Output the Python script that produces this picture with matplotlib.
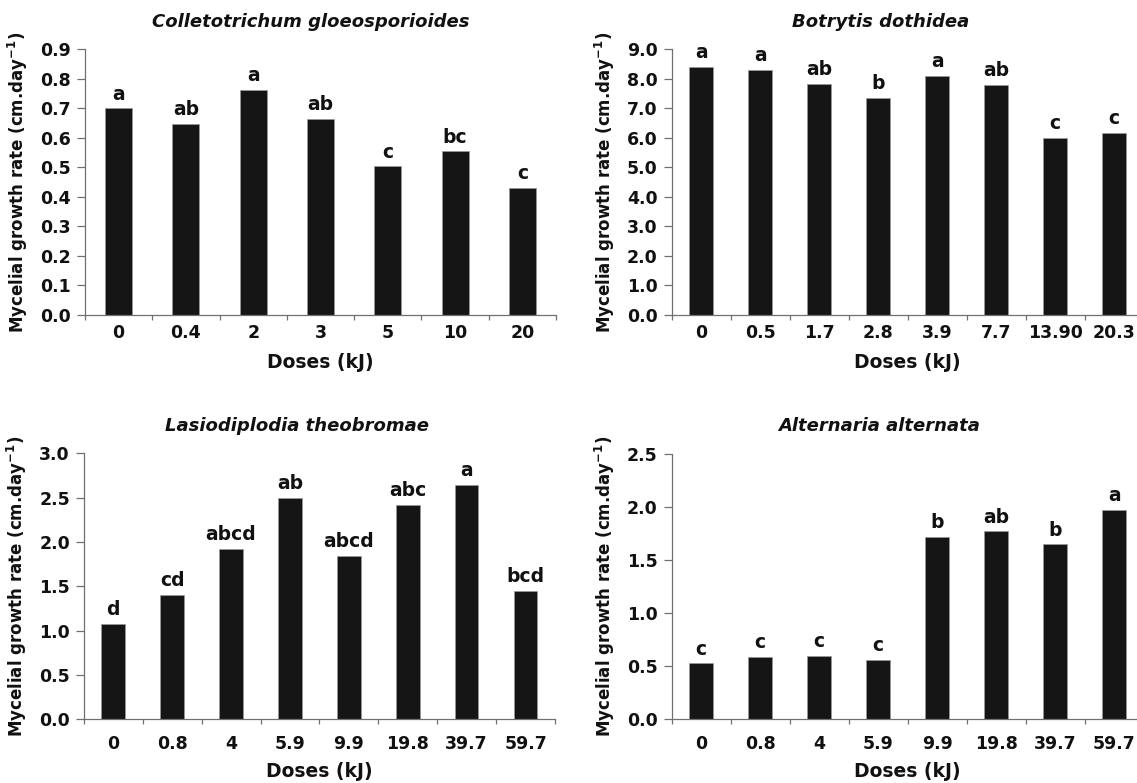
import matplotlib
matplotlib.use('Agg')
import matplotlib.pyplot as plt
import numpy as np
from matplotlib.ticker import FormatStrFormatter, FixedLocator

plt.rcParams['font.family'] = ['DejaVu Sans']
plt.rcParams['mathtext.fontset'] = 'dejavusans'
plt.rcParams['mathtext.default'] = 'bf'

# Colletotrichum gloeosporioides
cg_doses = ['0', '0.4', '2', '3', '5', '10', '20']
cg_rate = [0.700, 0.648, 0.763, 0.665, 0.503, 0.554, 0.431]
cg_letters = ['a', 'ab', 'a', 'ab', 'c', 'bc', 'c']

# Botrytis dothidea
bd_doses = ['0', '0.5', '1.7', '2.8', '3.9', '7.7', '13.90', '20.3']
bd_rate = [8.41, 8.29, 7.84, 7.35, 8.11, 7.80, 6.00, 6.16]
bd_letters = ['a', 'a', 'ab', 'b', 'a', 'ab', 'c', 'c']

# Lasiodiplodia theobromae
lt_doses = ['0', '0.8', '4', '5.9', '9.9', '19.8', '39.7', '59.7']
lt_rate = [1.075, 1.406, 1.925, 2.50, 1.842, 2.42, 2.643, 1.451]
lt_letters = ['d', 'cd', 'abcd', 'ab', 'abcd', 'abc', 'a', 'bcd']

# Alternaria alternata
aa_doses = ['0', '0.8', '4', '5.9', '9.9', '19.8', '39.7', '59.7']
aa_rate = [0.528, 0.591, 0.600, 0.563, 1.717, 1.770, 1.648, 1.972]
aa_letters = ['c', 'c', 'c', 'c', 'b', 'ab', 'b', 'a']

W, H = 1137, 783
fig = plt.figure(figsize=(W / 100, H / 100), dpi=100)

spine_col = '#707070'
bar_col = '#151515'


def panel(rect, doses, rate, letters, title, title_xy, ymax, ystep, tick_pad, xlab_base):
    l, t, r, b = rect
    ax = fig.add_axes([l / W, 1 - b / H, (r - l) / W, (b - t) / H])
    x = np.arange(len(doses))
    ax.bar(x, rate, width=0.4, color=bar_col, edgecolor='#999999', linewidth=0.5)
    for xi, v, s in zip(x, rate, letters):
        ax.annotate(s, (xi, v), xytext=(0, 6.3), textcoords='offset points',
                    ha='center', va='baseline', fontsize=13.5, fontweight='bold',
                    color='#111111')
    ax.set_xlim(-0.5, len(doses) - 0.5)
    ax.set_ylim(0, ymax)
    ax.set_yticks(np.arange(0, ymax + ystep / 2, ystep))
    ax.yaxis.set_major_formatter(FormatStrFormatter('%.1f'))
    ax.set_xticks(x)
    ax.set_xticklabels(doses)
    ax.xaxis.set_minor_locator(FixedLocator(np.arange(-0.5, len(doses), 1.0)))
    ax.tick_params(axis='x', which='major', length=0, pad=tick_pad, labelsize=12.5)
    ax.tick_params(axis='x', which='minor', length=3.4, width=0.9, color=spine_col)
    ax.tick_params(axis='y', length=5.5, width=0.9, color=spine_col, pad=4.5, labelsize=12.5)
    for lab in ax.get_xticklabels() + ax.get_yticklabels():
        lab.set_fontweight('bold')
        lab.set_color('#111111')
    for side in ['top', 'right']:
        ax.spines[side].set_visible(False)
    for side in ['left', 'bottom']:
        ax.spines[side].set_color(spine_col)
        ax.spines[side].set_linewidth(0.9)
    ax.set_xlabel('Doses (kJ)', fontsize=13.5, fontweight='bold', va='baseline',
                  color='#111111')
    ax.xaxis.set_label_coords(0.5, -(xlab_base - b) / (b - t))
    ax.set_ylabel(r'Mycelial growth rate (cm.day$^{-1}$)', fontsize=12,
                  fontweight='bold', color='#111111')
    ax.yaxis.set_label_coords(-55 / (r - l), 0.5)
    fig.text(title_xy[0] / W, 1 - title_xy[1] / H, title, ha='center', va='baseline',
             fontsize=13, fontweight='bold', style='italic', color='#111111')
    return ax


panel((85, 49.3, 556, 314.7), cg_doses, cg_rate, cg_letters,
      'Colletotrichum gloeosporioides', (310.5, 26.7), 0.9, 0.1, 6.8, 368)
panel((671.6, 49.3, 1143.6, 314.7), bd_doses, bd_rate, bd_letters,
      'Botrytis dothidea', (881, 26.7), 9.0, 1.0, 6.8, 368)
panel((83.8, 453.3, 555, 719.3), lt_doses, lt_rate, lt_letters,
      'Lasiodiplodia theobromae', (297, 430.7), 3.0, 0.5, 11.5, 777)
panel((671.6, 454, 1143.6, 719.3), aa_doses, aa_rate, aa_letters,
      'Alternaria alternata', (879, 430.7), 2.5, 0.5, 11.5, 777)

fig.savefig('out.png', dpi=100)
